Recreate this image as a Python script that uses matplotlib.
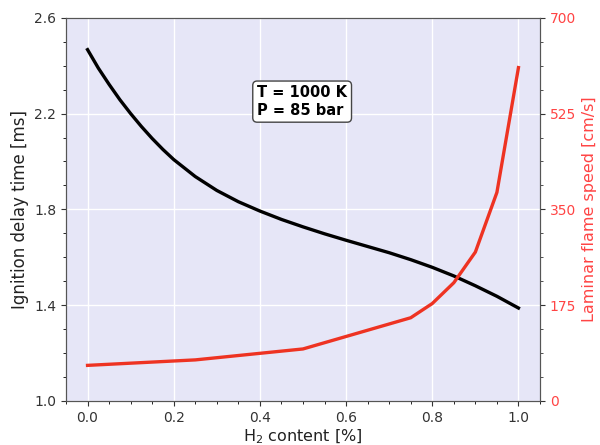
import numpy as np
import matplotlib
matplotlib.use("Agg")
import matplotlib.pyplot as plt
from matplotlib.ticker import AutoMinorLocator

# ignition delay (black)
h2_idt = [0.0, 0.025, 0.05, 0.075, 0.1, 0.125, 0.15, 0.175, 0.2, 0.25, 0.3,
          0.35, 0.4, 0.45, 0.5, 0.55, 0.6, 0.65, 0.7, 0.75, 0.8, 0.85, 0.9,
          0.95, 1.0]
idt = [2.467, 2.39, 2.322, 2.258, 2.2, 2.146, 2.096, 2.05, 2.008, 1.937, 1.879,
       1.832, 1.793, 1.758, 1.727, 1.698, 1.671, 1.645, 1.619, 1.59, 1.558,
       1.522, 1.481, 1.437, 1.388]

# laminar flame speed (red)
h2_sl = [0.0, 0.25, 0.5, 0.75, 0.8, 0.85, 0.9, 0.95, 1.0]
sl = [65, 75, 95, 152, 178, 216, 272, 381, 609]

xticks = [0.0, 0.2, 0.4, 0.6, 0.8, 1.0]
left_ticks = [1.0, 1.4, 1.8, 2.2, 2.6]
right_ticks = [0, 175, 350, 525, 700]

red = '#EE3322'
red_txt = '#FF4444'

fig = plt.figure(figsize=(6, 4.45), dpi=100)
ax = fig.add_axes([0.11, 0.099, 0.79, 0.861])
ax.set_facecolor('#E6E6F7')
ax.grid(True, color='white', lw=1.0)
ax.set_axisbelow(True)
ax.plot(h2_idt, idt, color='black', lw=2.4)
ax.set_xlim(-0.05, 1.05)
ax.set_ylim(1.0, 2.6)
ax.set_xticks(xticks)
ax.set_yticks(left_ticks)
ax.xaxis.set_minor_locator(AutoMinorLocator())
ax.yaxis.set_minor_locator(AutoMinorLocator())
ax.tick_params(labelsize=10, colors='#333333')
ax.set_xlabel('H$_2$ content [%]', fontsize=11.5, color='#222222', labelpad=2)
ax.set_ylabel('Ignition delay time [ms]', fontsize=12, color='#222222')
for sp in ax.spines.values():
    sp.set_color('#555555')

ax2 = ax.twinx()
ax2.plot(h2_sl, sl, color=red, lw=2.4)
ax2.set_ylim(0, 700)
ax2.set_yticks(right_ticks)
ax2.yaxis.set_minor_locator(AutoMinorLocator())
ax2.tick_params(axis='y', which='both', labelsize=10, colors='#333333')
ax2.tick_params(axis='y', which='major', labelcolor=red_txt)
ax2.set_ylabel('Laminar flame speed [cm/s]', fontsize=11.5, color=red_txt)
for sp in ax2.spines.values():
    sp.set_color('#555555')

ax.text(0.498, 2.25, 'T = 1000 K\nP = 85 bar', fontsize=10.5, fontweight='bold',
        ha='center', va='center', multialignment='left',
        bbox=dict(boxstyle='round,pad=0.3', facecolor='white', edgecolor='#444444'))

fig.savefig('out.png', dpi=100)
